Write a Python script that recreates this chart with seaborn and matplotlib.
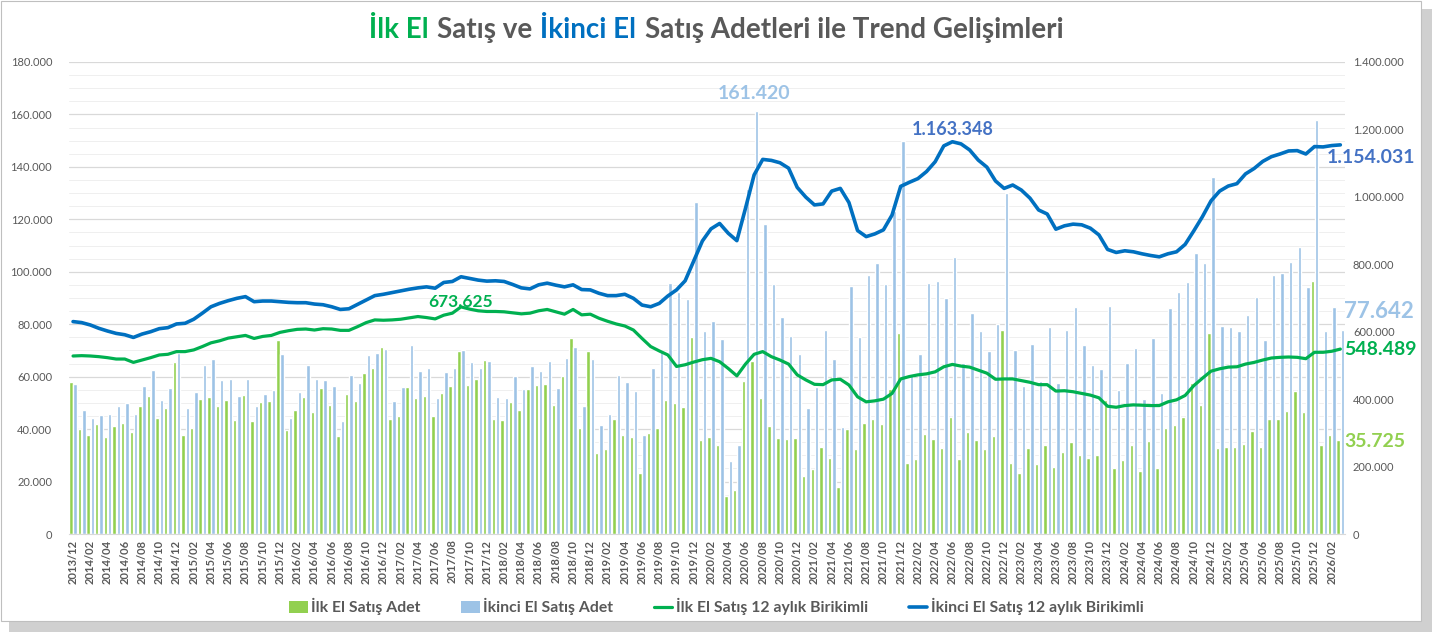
import numpy as np
import pandas as pd
import matplotlib
matplotlib.use("Agg")
import matplotlib.pyplot as plt
import seaborn as sns
from matplotlib.patches import Patch, Rectangle
from matplotlib.lines import Line2D
from matplotlib.ticker import MultipleLocator, FuncFormatter
from matplotlib.offsetbox import TextArea, HPacker, AnchoredOffsetbox

# DATA (monthly, 2013/12 - 2026/03), bar values in thousands, cumulative in thousands
months = pd.period_range("2013-12", "2026-03", freq="M").strftime("%Y/%m").tolist()

ilk_el_adet = [
    58.1, 39.9, 37.8, 41.8, 37.1, 41.2, 42.3, 39.0, 48.7, 52.8, 44.4, 47.9, 65.7,
    37.8, 40.3, 51.4, 52.4, 48.8, 51.0, 43.5, 53.0, 43.0, 50.3, 50.7, 74.0,
    39.7, 47.2, 52.1, 46.5, 55.8, 49.1, 37.5, 53.5, 50.7, 61.4, 63.2, 71.4,
    44.0, 45.0, 56.2, 51.8, 52.8, 45.0, 53.8, 56.3, 69.8, 56.7, 59.1, 66.5,
    44.0, 43.5, 50.5, 47.3, 55.3, 56.9, 57.3, 49.2, 60.1, 74.6, 40.5, 69.7,
    30.8, 32.4, 43.9, 37.6, 37.0, 23.1, 38.6, 40.3, 51.1, 49.8, 48.6, 75.3,
    35.9, 37.0, 33.9, 14.5, 16.8, 58.5, 66.0, 52.0, 41.2, 36.8, 36.4, 36.6,
    22.1, 24.7, 33.1, 29.0, 18.0, 39.9, 32.5, 42.4, 43.7, 41.8, 55.4, 76.5,
    27.0, 28.7, 38.1, 36.2, 32.7, 44.5, 28.5, 38.8, 35.9, 32.4, 37.3, 77.8,
    27.2, 23.4, 32.7, 26.7, 34.1, 25.7, 31.4, 35.2, 30.1, 29.0, 30.2, 51.1,
    25.0, 28.4, 34.1, 24.0, 35.3, 25.2, 40.4, 41.6, 44.6, 57.5, 49.1, 76.5,
    32.7, 33.3, 33.1, 34.3, 39.4, 33.3, 43.7, 43.7, 47.0, 54.7, 46.5, 96.5,
    33.9, 37.6, 35.725,
]

ikinci_el_adet = [
    57.2, 47.2, 44.4, 45.4, 45.8, 48.7, 50.1, 45.6, 56.6, 62.7, 51.0, 55.6, 68.9,
    48.1, 54.0, 64.5, 66.6, 58.7, 59.2, 52.8, 59.1, 48.9, 53.5, 54.9, 68.5,
    44.4, 54.0, 64.6, 59.2, 58.6, 56.4, 43.1, 60.6, 57.7, 68.3, 68.9, 70.6,
    50.8, 56.2, 72.2, 62.3, 63.4, 51.9, 61.7, 63.4, 70.2, 65.6, 63.2, 66.0,
    52.4, 52.0, 60.1, 55.3, 64.1, 62.3, 66.1, 55.6, 67.0, 71.4, 48.7, 66.7,
    41.6, 45.6, 60.6, 58.0, 54.4, 37.9, 63.3, 69.8, 95.6, 92.4, 89.5, 126.5,
    77.4, 81.4, 74.5, 27.7, 33.9, 131.5, 161.42, 118.2, 95.2, 82.6, 75.6, 68.8,
    48.1, 56.2, 77.8, 66.6, 40.8, 94.7, 75.3, 98.7, 103.2, 95.5, 123.0, 149.8,
    61.0, 68.6, 95.7, 96.5, 89.9, 105.5, 65.1, 84.4, 77.4, 69.8, 80.2, 129.9,
    70.2, 56.4, 72.5, 58.5, 78.8, 57.6, 77.8, 86.7, 72.1, 64.5, 62.8, 87.1,
    54.9, 65.1, 70.9, 51.4, 74.9, 53.7, 86.1, 92.2, 96.0, 107.3, 103.5, 136.0,
    79.3, 78.8, 77.5, 83.6, 90.5, 74.0, 98.9, 99.4, 103.6, 109.6, 94.3, 157.9,
    77.5, 86.7, 77.642,
]

ilk_el_12ay = [
    528, 529, 528, 526, 523, 519, 519, 509, 516, 523, 531, 533, 541,
    541, 546, 556, 567, 573, 581, 585, 589, 580, 586, 589, 598,
    603, 607, 608, 605, 609, 608, 604, 604, 615, 627, 635, 634,
    635, 637, 641, 645, 642, 638, 649, 655, 673.625, 667, 662, 660,
    660, 659, 656, 653, 655, 662, 666, 659, 652, 666, 650, 652,
    640, 631, 623, 617, 605, 580, 556, 543, 531, 497, 502, 510,
    517, 521, 511, 491, 469, 504, 533, 541, 526, 516, 504, 472,
    457, 444, 443, 457, 459, 442, 407, 392, 395, 400, 417, 460,
    467, 472, 475, 481, 496, 503, 498, 495, 486, 477, 459, 460,
    460, 455, 450, 443, 443, 424, 425, 422, 417, 412, 404, 379,
    376, 381, 383, 382, 381, 381, 392, 398, 411, 440, 462, 483,
    490, 495, 496, 504, 509, 516, 522, 524, 525, 524, 520, 539,
    539, 542, 548.489,
]

ikinci_el_12ay = [
    630, 627, 620, 610, 602, 595, 591, 583, 593, 600, 609, 612, 623,
    625, 637, 655, 674, 684, 692, 699, 704, 689, 691, 691, 689,
    687, 686, 686, 682, 680, 674, 666, 668, 681, 694, 707, 711,
    716, 721, 726, 730, 733, 729, 746, 749, 763, 758, 753, 750,
    751, 749, 740, 730, 727, 739, 744, 738, 733, 739, 725, 724,
    714, 707, 707, 711, 699, 679, 674, 684, 706, 724, 751, 810,
    869, 905, 921, 892, 870, 966, 1065, 1111, 1108, 1101, 1085, 1028,
    999, 976, 979, 1017, 1025, 983, 900, 882, 890, 902, 946, 1031,
    1043, 1054, 1075, 1104, 1151, 1163.348, 1157, 1139, 1109, 1088, 1047, 1025,
    1035, 1020, 996, 961, 949, 904, 914, 919, 917, 907, 887, 844,
    835, 840, 837, 831, 826, 822, 831, 837, 859, 899, 941, 988,
    1017, 1032, 1039, 1068, 1084, 1105, 1119, 1127, 1136, 1137, 1127, 1149,
    1148, 1152, 1154.031,
]

series_names = ["İlk El Satış Adet", "İkinci El Satış Adet",
                "İlk El Satış 12 aylık Birikimli", "İkinci El Satış 12 aylık Birikimli"]

GREEN_BAR = "#92D050"
BLUE_BAR = "#9DC3E6"
GREEN_LINE = "#00B050"
BLUE_LINE = "#0070C0"
GRAY = "#595959"

sns.set_style("white")
plt.rcParams["font.family"] = ["Lato", "DejaVu Sans"]

bars = pd.DataFrame({
    "month": months * 2,
    "series": [series_names[0]] * len(months) + [series_names[1]] * len(months),
    "value": np.array(ilk_el_adet + ikinci_el_adet) * 1000,
})

fig = plt.figure(figsize=(14.32, 6.32), dpi=100)
fig.patch.set_facecolor("white")

# frame with a soft shadow like the Excel chart box
fig.add_artist(Rectangle((0.006, 0.0), 0.994, 0.985, transform=fig.transFigure,
                         facecolor="#D0D0D0", edgecolor="none", zorder=-3))
fig.add_artist(Rectangle((0.001, 0.018), 0.991, 0.98, transform=fig.transFigure,
                         facecolor="white", edgecolor="#BFBFBF", linewidth=0.8, zorder=-2))

ax = fig.add_axes([0.048, 0.155, 0.891, 0.747])
ax.patch.set_alpha(0)

sns.barplot(data=bars, x="month", y="value", hue="series", order=months,
            hue_order=series_names[:2], palette=[GREEN_BAR, BLUE_BAR],
            width=1.0, gap=0.2, saturation=1, errorbar=None, legend=False, ax=ax)

ax.set_xlim(-0.5, len(months) - 0.5)
ax.set_ylim(0, 180000)
ax.yaxis.set_major_locator(MultipleLocator(20000))
ax.yaxis.set_minor_locator(MultipleLocator(5000))
ax.grid(axis="y", which="major", color="#D9D9D9", linewidth=0.9)
ax.grid(axis="y", which="minor", color="#EFEFEF", linewidth=0.7)
ax.set_axisbelow(True)

thousands = FuncFormatter(lambda v, p: f"{int(round(v)):,}".replace(",", "."))
ax.yaxis.set_major_formatter(thousands)
ax.tick_params(axis="y", which="both", length=0, labelsize=8, labelcolor=GRAY, pad=12)
ax.set_xticks(range(0, len(months), 2))
ax.set_xticklabels(months[::2], rotation=90, fontsize=8, fontweight="bold", color=GRAY)
ax.tick_params(axis="x", length=0, pad=4)
ax.set_xlabel("")
ax.set_ylabel("")
for s in ["top", "left", "right"]:
    ax.spines[s].set_visible(False)
ax.spines["bottom"].set_color("#D9D9D9")

# cumulative lines on the secondary axis
ax2 = ax.twinx()
x_idx = np.arange(len(months))
sns.lineplot(x=x_idx, y=np.array(ilk_el_12ay) * 1000, ax=ax2, color=GREEN_LINE, linewidth=2.3)
sns.lineplot(x=x_idx, y=np.array(ikinci_el_12ay) * 1000, ax=ax2, color=BLUE_LINE, linewidth=2.6)
ax2.set_ylim(0, 1400000)
ax2.yaxis.set_major_locator(MultipleLocator(200000))
ax2.yaxis.set_major_formatter(thousands)
ax2.tick_params(axis="y", length=0, labelsize=8, labelcolor=GRAY, pad=6)
ax2.set_ylabel("")
for s in ax2.spines.values():
    s.set_visible(False)
ax2.set_xlim(-0.5, len(months) - 0.5)

# data labels
ax.text(79, 167800, "161.420", ha="center", va="center", color=BLUE_BAR,
        fontsize=14, fontweight="bold")
ax2.text(102, 1201000, "1.163.348", ha="center", va="center", color="#4472C4",
         fontsize=13, fontweight="bold")
ax2.text(45, 688000, "673.625", ha="center", va="center", color=GREEN_LINE,
         fontsize=12.5, fontweight="bold")
ax2.text(150.6, 1118000, "1.154.031", ha="center", va="center", color="#4472C4",
         fontsize=14, fontweight="bold")
ax.text(151.5, 84700, "77.642", ha="center", va="center", color=BLUE_BAR,
        fontsize=16, fontweight="bold")
ax2.text(151.6, 548700, "548.489", ha="center", va="center", color=GREEN_LINE,
         fontsize=14, fontweight="bold")
ax.text(151.0, 35100, "35.725", ha="center", va="center", color=GREEN_BAR,
        fontsize=14, fontweight="bold")

# multi-coloured title
title_parts = [("İlk El", GREEN_LINE), ("Satış ve", GRAY), ("İkinci El", BLUE_LINE),
               ("Satış Adetleri ile Trend Gelişimleri", GRAY)]
boxes = [TextArea(t, textprops=dict(color=c, fontsize=20, fontweight="bold")) for t, c in title_parts]
title_box = AnchoredOffsetbox(loc="center", child=HPacker(children=boxes, align="baseline", pad=0, sep=6),
                              bbox_to_anchor=(0.5, 0.953), bbox_transform=fig.transFigure,
                              frameon=False, pad=0, borderpad=0)
fig.add_artist(title_box)

# legend
handles = [
    Patch(facecolor=GREEN_BAR, edgecolor="none"),
    Patch(facecolor=BLUE_BAR, edgecolor="none"),
    Line2D([0], [0], color=GREEN_LINE, linewidth=2.3),
    Line2D([0], [0], color=BLUE_LINE, linewidth=2.6),
]
leg = fig.legend(handles, series_names, loc="center", bbox_to_anchor=(0.5, 0.04), ncol=4,
                 frameon=False, fontsize=11.3, handlelength=1.2, handleheight=0.8,
                 handletextpad=0.2, columnspacing=2.6)
for t in leg.get_texts():
    t.set_color(GRAY)
    t.set_fontweight("bold")

fig.savefig("out.png", dpi=100)
